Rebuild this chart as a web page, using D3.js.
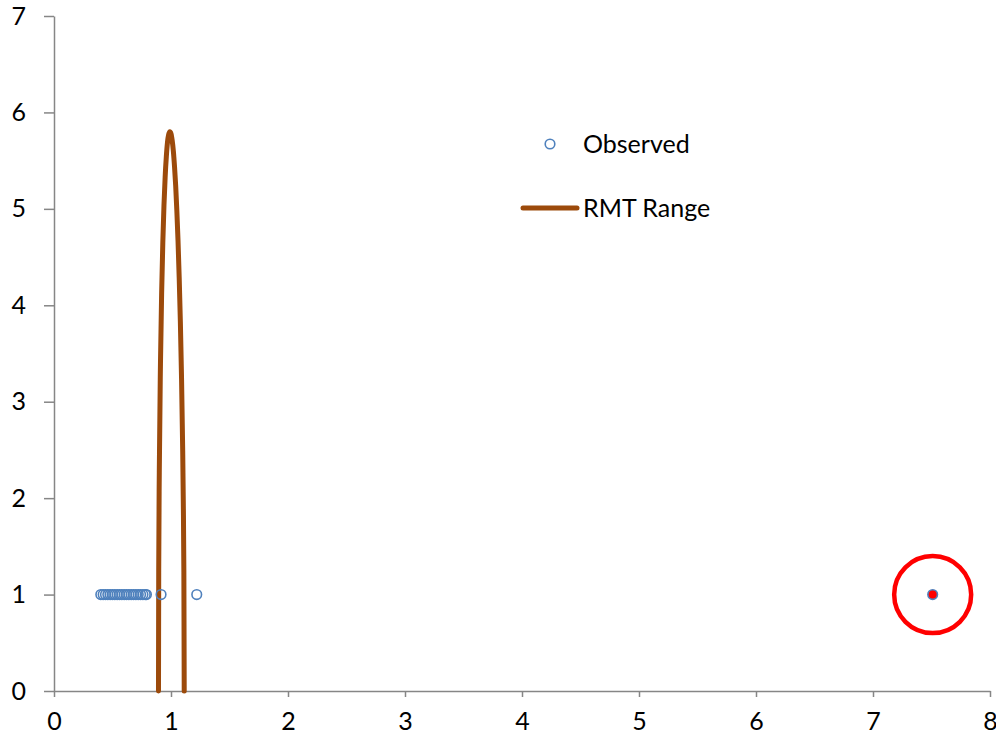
<!DOCTYPE html>
<html><head><meta charset="utf-8">
<script src="https://cdn.jsdelivr.net/npm/d3@7/dist/d3.min.js"></script>
<style>body{margin:0;background:#fff}svg{display:block}text{font-family:Lato,"Open Sans",sans-serif;fill:#000}</style>
</head><body><svg id="c" width="996" height="741"></svg>
<script>
// Data
const xTicks = [0,1,2,3,4,5,6,7,8];
const yTicks = [0,1,2,3,4,5,6,7];
const observedX = [0.40,0.42,0.44,0.46,0.48,0.50,0.52,0.54,0.56,0.58,0.60,0.62,0.64,0.66,0.68,0.70,0.72,0.74,0.76,0.78,0.79,0.915,1.22];
const observedY = observedX.map(() => 1);
const outlierX = [7.51];
const outlierY = [1];
const rmtX = [0.893,0.895,0.90,0.91,0.92,0.93,0.94,0.95,0.96,0.97,0.98,0.99,1.00,1.01,1.02,1.03,1.04,1.05,1.06,1.07,1.08,1.09,1.10,1.105,1.11,1.113];
const rmtY = [0,1.25,2.27,3.40,4.13,4.65,5.04,5.33,5.54,5.69,5.77,5.80,5.78,5.71,5.60,5.44,5.24,4.98,4.67,4.29,3.83,3.25,2.49,1.97,1.23,0];
const legendLabels = ["Observed","RMT Range"];

const svg = d3.select("#c");
const x = d3.scaleLinear().domain([0,8]).range([54,990]);
const y = d3.scaleLinear().domain([0,7]).range([691,16]);
const axisColor = "#868686";

const xa = svg.append("g").attr("transform","translate(0,691)")
  .call(d3.axisBottom(x).tickValues(xTicks).tickFormat(d3.format("d")).tickSize(6).tickPadding(12).tickSizeOuter(0));
const ya = svg.append("g").attr("transform","translate(54,0)")
  .call(d3.axisLeft(y).tickValues(yTicks).tickFormat(d3.format("d")).tickSize(10).tickPadding(18).tickSizeOuter(0));
[xa,ya].forEach(a=>{
  a.selectAll("path,line").attr("stroke",axisColor).attr("stroke-width",1.5);
  a.selectAll("text").style("font-size","25px").attr("fill","#000");
});
xa.selectAll("text").attr("dy","0.85em");

// RMT curve
const line = d3.line().x((d,i)=>x(rmtX[i])).y((d,i)=>y(rmtY[i])).curve(d3.curveMonotoneX);
svg.append("path").datum(rmtX).attr("d",line).attr("fill","none")
  .attr("stroke","#9C4A0B").attr("stroke-width",5).attr("stroke-linecap","round").attr("stroke-linejoin","round");

// Observed points
svg.append("g").selectAll("circle").data(observedX).join("circle")
  .attr("cx",d=>x(d)).attr("cy",(d,i)=>y(observedY[i])).attr("r",4.8)
  .attr("fill","none").attr("stroke","#4F81BD").attr("stroke-width",1.6);
svg.append("g").selectAll("circle").data(outlierX).join("circle")
  .attr("cx",d=>x(d)).attr("cy",(d,i)=>y(outlierY[i])).attr("r",4.8)
  .attr("fill","#FF0000").attr("stroke","#4F81BD").attr("stroke-width",1.6);
svg.append("g").selectAll("circle").data(outlierX).join("circle")
  .attr("cx",d=>x(d)).attr("cy",(d,i)=>y(outlierY[i])).attr("r",38.5)
  .attr("fill","none").attr("stroke","#FF0000").attr("stroke-width",4.5);

// Legend
const lg = svg.append("g");
lg.append("circle").attr("cx",550).attr("cy",144).attr("r",4.8)
  .attr("fill","none").attr("stroke","#4F81BD").attr("stroke-width",1.6);
lg.append("text").attr("x",583).attr("y",144).attr("dy","0.35em").style("font-size","25px").text(legendLabels[0]);
lg.append("line").attr("x1",523).attr("x2",577).attr("y1",208).attr("y2",208)
  .attr("stroke","#9C4A0B").attr("stroke-width",5).attr("stroke-linecap","round");
lg.append("text").attr("x",583).attr("y",208).attr("dy","0.35em").style("font-size","25px").text(legendLabels[1]);
</script></body></html>
